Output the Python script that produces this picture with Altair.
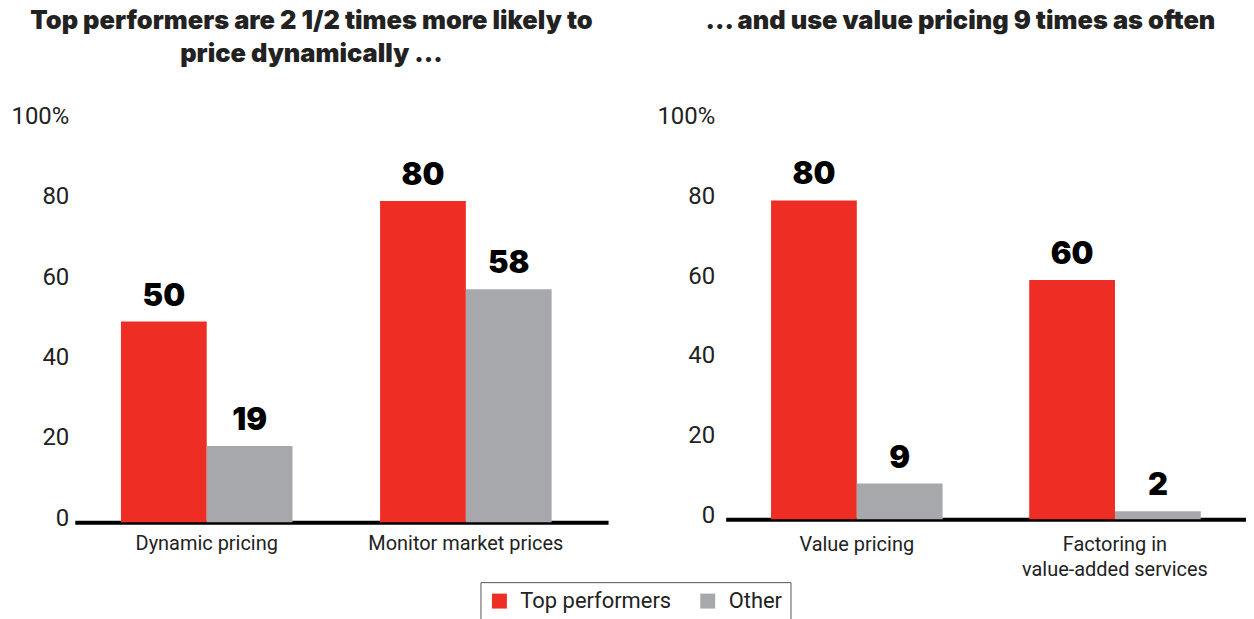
import altair as alt
import pandas as pd

groups = ["Top performers", "Other"]
colors = ["#EE2E24", "#A7A8AB"]

left_categories = ["Dynamic pricing", "Monitor market prices"]
left_top = [50, 80]
left_other = [19, 58]

right_categories = ["Value pricing", "Factoring in|value-added services"]
right_top = [80, 60]
right_other = [9, 2]

left_title = "Top performers are 2 1/2 times more likely to"
left_subtitle = "price dynamically ..."
right_title = "... and use value pricing 9 times as often"

y_ticks = [0, 20, 40, 60, 80, 100]


def make_df(cats, top, other):
    rows = []
    for c, t, o in zip(cats, top, other):
        rows.append({"category": c, "group": groups[0], "value": t})
        rows.append({"category": c, "group": groups[1], "value": o})
    return pd.DataFrame(rows)


def panel(df, cats, title_params, width, height, y_pad, x_pad, p_in, p_out, align):
    base = alt.Chart(df).encode(
        x=alt.X(
            "category:N",
            sort=cats,
            scale=alt.Scale(paddingInner=p_in, paddingOuter=p_out, align=align),
            axis=alt.Axis(
                title=None,
                labelAngle=0,
                labelExpr="split(datum.label, '|')",
                ticks=False,
                domainColor="black",
                domainWidth=4,
                labelFont="Roboto",
                labelFontSize=20,
                labelColor="#222222",
                labelPadding=x_pad,
                labelLineHeight=25,
                labelLimit=400,
            ),
        ),
        xOffset=alt.XOffset("group:N", sort=groups),
        y=alt.Y(
            "value:Q",
            scale=alt.Scale(domain=[0, 100]),
            axis=alt.Axis(
                title=None,
                values=y_ticks,
                labelExpr="datum.value == 100 ? '100%' : datum.label",
                domain=False,
                ticks=False,
                grid=False,
                labelFont="Roboto",
                labelFontSize=24,
                labelColor="#222222",
                labelPadding=y_pad,
                labelOffset=-4,
            ),
        ),
    )
    bars = base.mark_bar(width={"band": 1}).encode(
        color=alt.Color(
            "group:N",
            sort=groups,
            scale=alt.Scale(domain=groups, range=colors),
            legend=alt.Legend(
                title=None,
                orient="none",
                legendX=407,
                legendY=463,
                direction="horizontal",
                strokeColor="#555555",
                padding=8,
                symbolType="square",
                symbolSize=225,
                symbolStrokeWidth=0,
                labelOffset=10,
                labelFont="Roboto",
                labelFontSize=22,
                labelColor="#222222",
                columnPadding=25,
            ),
        )
    )
    labels = base.mark_text(
        font="Inter", fontWeight=900, fontSize=31, dy=-25, color="black"
    ).encode(text=alt.Text("value:Q"))
    return (bars + labels).properties(width=width, height=height, title=title_params)


title_style = dict(
    font="Inter",
    fontWeight=900,
    fontSize=25.5,
    color="#222222",
    anchor="middle",
    frame="bounds",
)

left_tp = alt.TitleParams(
    text=left_title,
    subtitle=left_subtitle,
    subtitleFont="Inter",
    subtitleFontWeight=900,
    subtitleFontSize=25.5,
    subtitleColor="#222222",
    subtitlePadding=7.5,
    offset=37,
    dx=2,
    **title_style,
)
right_tp = alt.TitleParams(text=right_title, offset=73, dx=9, dy=3, **title_style)

left = panel(make_df(left_categories, left_top, left_other), left_categories,
             left_tp, 535, 403, 6, 11, 0.338, 0.198, 0.45)
right = panel(make_df(right_categories, right_top, right_other), right_categories,
              right_tp, 522, 400, 11, 15, 0.336, 0.1757, 0.5)

chart = (
    alt.hconcat(left, right, spacing=48)
    .configure_view(stroke=None)
    .properties(padding={"left": 2, "top": 0, "right": 0, "bottom": 5})
)

chart.save("out.html", embed_options={"renderer": "svg", "actions": False})
